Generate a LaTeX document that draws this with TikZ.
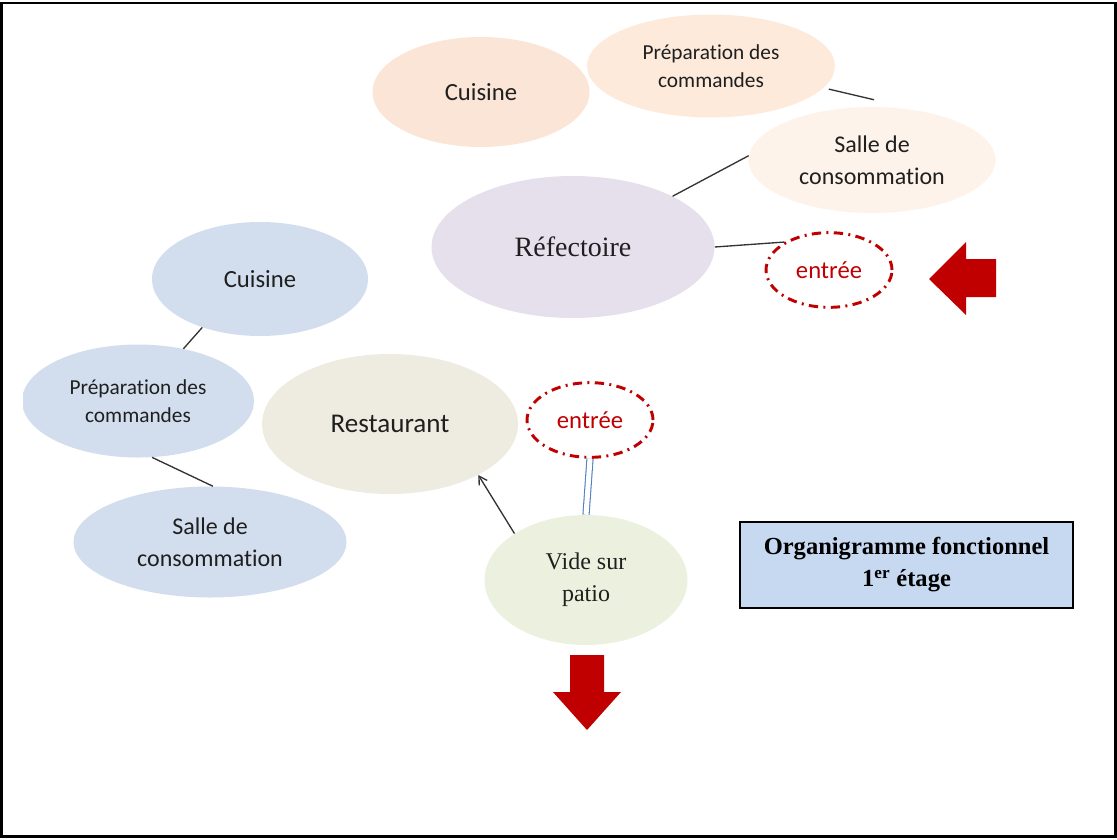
\documentclass[tikz,border=0pt]{standalone}
\usepackage{fontspec}
\setmainfont{Liberation Serif}
\newfontfamily\calib[Ligatures=NoCommon]{Carlito}
\usetikzlibrary{shapes.geometric,arrows.meta}

\definecolor{peachA}{HTML}{FBE5D6}
\definecolor{peachB}{HTML}{FDEADB}
\definecolor{peachC}{HTML}{FEF3EA}
\definecolor{lavender}{HTML}{E6E0EC}
\definecolor{steel}{HTML}{D2DEEE}
\definecolor{beige}{HTML}{EEECE1}
\definecolor{sage}{HTML}{EBF1DE}
\definecolor{titleblue}{HTML}{C6D9F1}
\definecolor{entred}{HTML}{C00000}
\definecolor{linkblue}{HTML}{4F81BD}

\begin{document}
\begin{tikzpicture}[x=0.75pt,y=-0.75pt,
  bub/.style={ellipse, inner sep=0pt, align=center, text=black!88},
  fsans/.style 2 args={font={\calib\fontsize{#1}{#2}\selectfont}},
  fserif/.style 2 args={font={\fontsize{#1}{#2}\selectfont}},
  entbub/.style={ellipse, inner sep=0pt, draw=entred, text=entred,
    line width=2.2pt, dash pattern=on 7pt off 4pt on 1.5pt off 4pt,
    minimum width=94.5pt, minimum height=56pt, fsans={18.5}{22}},
  conn/.style={draw=black!80, line width=1pt},
  bigarrow/.style={fill=entred}]
\useasboundingbox (0,0) rectangle (1117,839);

% outer frame
\draw[line width=1.6pt] (1.5,3) rectangle (1115.5,836.5);

% upper group (Réfectoire)
\node[bub, fill=peachA, minimum width=162.75pt, minimum height=82.5pt, fsans={18.5}{24}] (cuisA) at (481,92) {Cuisine};
\node[bub, fill=peachB, minimum width=186pt, minimum height=77.25pt, fsans={16}{21}] (prepA) at (711,66) {Préparation des\\commandes};
\node[bub, fill=peachC, minimum width=185.25pt, minimum height=79.5pt, fsans={18}{24}] (salleA) at (872,160) {Salle de\\consommation};
\node[bub, fill=lavender, minimum width=212.25pt, minimum height=106.5pt, fserif={21}{24}] (refect) at (573,247) {Réfectoire};
\node[entbub] (entA) at (829,270) {entrée};

% lower group (Restaurant)
\node[bub, fill=steel, minimum width=162pt, minimum height=85.5pt, fsans={18.5}{24}] (cuisB) at (260,279) {Cuisine};
\begin{scope}
  \clip (23,330) rectangle (300,480);
  \node[bub, fill=steel, minimum width=174pt, minimum height=84.75pt, fsans={16}{21.5}] (prepB) at (138,401) {Préparation des\\commandes};
\end{scope}
\node[bub, fill=steel, minimum width=204.75pt, minimum height=83.25pt, fsans={18}{24}] (salleB) at (210,542) {Salle de\\consommation};
\node[bub, fill=beige, minimum width=192pt, minimum height=105pt, fsans={20.3}{24}] (resto) at (390,424) {Restaurant};
\node[entbub] (entB) at (590,420) {entrée};
\node[bub, fill=sage, minimum width=152.25pt, minimum height=97.5pt, fserif={18}{24}] (vide) at (586,580) {Vide sur\\patio};

% title
\node[draw=black, line width=2.2pt, fill=titleblue, minimum width=249.75pt, minimum height=64.5pt,
  align=center, font={\bfseries\fontsize{18.4}{24}\selectfont}] (title) at (906.5,565)
  {Organigramme fonctionnel\\1\textsuperscript{er} étage};

% connectors
\draw[conn, shorten <=4pt] (prepA.-11) -- ([shift={(2,-7)}]salleA.north);
\draw[conn] (refect.27) -- (salleA.178);
\draw[conn] (refect.east) -- (entA.148);
\draw[conn] (cuisB.220) -- (prepB.49);
\draw[conn] (prepB.-76) -- (salleB.87);
\draw[conn, -{Straight Barb[length=6pt,width=7pt]}] (vide.147) -- (resto.-30);
\draw[draw=linkblue, line width=0.8pt, double=white, double distance=3.8pt] (entB.south) -- (vide.north);

% entrance arrows
\fill[bigarrow] (929,279) -- (966,242) -- (966,259) -- (996,259) -- (996,297) -- (966,297) -- (966,315) -- cycle;
\fill[bigarrow] (587,730) -- (553,692) -- (570,692) -- (570,655) -- (604,655) -- (604,692) -- (621,692) -- cycle;
\end{tikzpicture}
\end{document}
